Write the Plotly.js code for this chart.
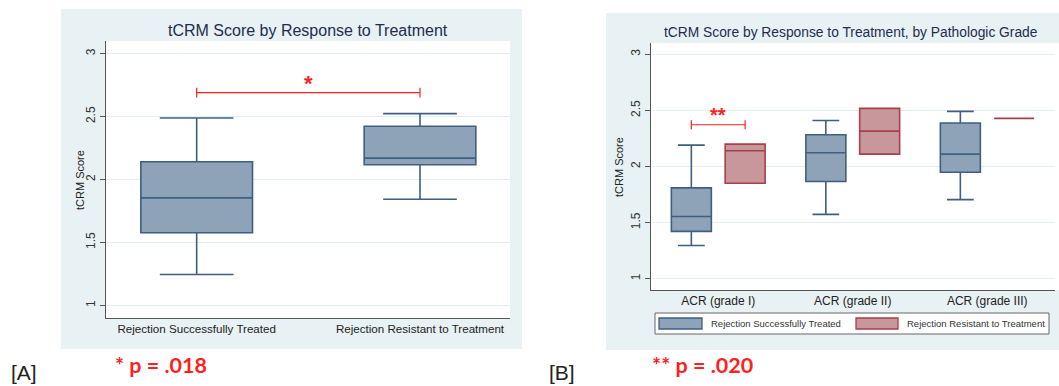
<!DOCTYPE html>
<html>
<head>
<meta charset="utf-8">
<script src="https://cdn.plot.ly/plotly-3.0.1.min.js"></script>
<style>html,body{margin:0;padding:0;background:#fff;}#chart{width:1059px;height:386px;}</style>
</head>
<body>
<div id="chart"></div>
<script>
// ---- Data (panel A) ----
const categoriesA = ['Rejection Successfully Treated', 'Rejection Resistant to Treatment'];
const lowerA  = [1.245, 1.843];
const q1A     = [1.577, 2.117];
const medianA = [1.854, 2.170];
const q3A     = [2.141, 2.423];
const upperA  = [2.489, 2.523];

// ---- Data (panel B) ----
const categoriesB = ['ACR (grade I)', 'ACR (grade II)', 'ACR (grade III)'];
const seriesNames = ['Rejection Successfully Treated', 'Rejection Resistant to Treatment'];
const treatedLower  = [1.297, 1.574, 1.705];
const treatedQ1     = [1.422, 1.866, 1.949];
const treatedMedian = [1.554, 2.122, 2.110];
const treatedQ3     = [1.810, 2.283, 2.387];
const treatedUpper  = [2.190, 2.410, 2.491];
const resistLower   = [1.851, 2.110, 2.429];
const resistQ1      = [1.851, 2.110, 2.429];
const resistMedian  = [2.140, 2.315, 2.429];
const resistQ3      = [2.199, 2.518, 2.429];
const resistUpper   = [2.199, 2.518, 2.429];

const yTicks = [1, 1.5, 2, 2.5, 3];
const yTickText = ['1', '1.5', '2', '2.5', '3'];
const sigA = {label: '*', y: 2.69, p: '* p = .018'};
const sigB = {label: '**', y: 2.372, p: '** p = .020'};

// ---- Styles ----
const W = 1059, H = 386;
const px = x => x / W;
const py = y => 1 - y / H;
const blueFill = '#8ea3b7', blueLine = '#3e5f83';
const redFill = '#c8979b', redLine = '#a8404a';
const panelBg = '#e8f1f3';
const gridCol = '#e4eef2';
const axisCol = '#555555';
const red = '#ff1f1f';
const FONT = 'Liberation Sans, Arial, sans-serif';
const boxgap = 0.2, boxgroupgap = 0.257;
const offB = 0.25 * (1 - boxgap);

const traces = [
  {
    type: 'box', xaxis: 'x', yaxis: 'y', x: categoriesA, alignmentgroup: 'A', offsetgroup: 'A',
    q1: q1A, median: medianA, q3: q3A, lowerfence: lowerA, upperfence: upperA,
    width: 0.5, whiskerwidth: 0.66, boxpoints: false, showlegend: false,
    fillcolor: blueFill, line: {color: blueLine, width: 1.6}, hoverinfo: 'skip'
  },
  {
    type: 'box', xaxis: 'x2', yaxis: 'y2', x: categoriesB, name: seriesNames[0],
    alignmentgroup: 'B', offsetgroup: 'treated',
    q1: treatedQ1, median: treatedMedian, q3: treatedQ3, lowerfence: treatedLower, upperfence: treatedUpper,
    whiskerwidth: 0.67, boxpoints: false, showlegend: false,
    fillcolor: blueFill, line: {color: blueLine, width: 1.6}, hoverinfo: 'skip'
  },
  {
    type: 'box', xaxis: 'x2', yaxis: 'y2', x: categoriesB, name: seriesNames[1],
    alignmentgroup: 'B', offsetgroup: 'resistant',
    q1: resistQ1, median: resistMedian, q3: resistQ3, lowerfence: resistLower, upperfence: resistUpper,
    whiskerwidth: 0, boxpoints: false, showlegend: false,
    fillcolor: redFill, line: {color: redLine, width: 1.6}, hoverinfo: 'skip'
  }
];

const yaxisCommon = {
  range: [0.9, 3.1], tickmode: 'array', tickvals: yTicks, ticktext: yTickText,
  tickangle: -90, ticks: 'outside', ticklen: 5, tickcolor: axisCol,
  showline: true, linecolor: axisCol, linewidth: 1, showgrid: true, gridcolor: gridCol,
  zeroline: false, tickfont: {family: FONT, size: 12, color: '#333'},
  fixedrange: true
};
const xaxisCommon = {
  type: 'category', showline: true, linecolor: axisCol, linewidth: 1, ticks: '',
  showgrid: false, zeroline: false, tickfont: {family: FONT, size: 12, color: '#222'}, fixedrange: true
};

const shapes = [
  {type: 'rect', xref: 'paper', yref: 'paper', x0: px(61), x1: px(522), y0: py(349), y1: py(9), fillcolor: panelBg, line: {width: 0}, layer: 'below'},
  {type: 'rect', xref: 'paper', yref: 'paper', x0: px(606), x1: px(1059), y0: py(350), y1: py(13), fillcolor: panelBg, line: {width: 0}, layer: 'below'},
  {type: 'rect', xref: 'paper', yref: 'paper', x0: px(106), x1: px(510), y0: py(318), y1: py(41), fillcolor: '#ffffff', line: {width: 0}, layer: 'below'},
  {type: 'rect', xref: 'paper', yref: 'paper', x0: px(651), x1: px(1059), y0: py(290), y1: py(43), fillcolor: '#ffffff', line: {width: 0}, layer: 'below'},
  {type: 'line', xref: 'x', yref: 'y', x0: 0, x1: 1, y0: sigA.y, y1: sigA.y, line: {color: red, width: 1.2}},
  {type: 'line', xref: 'x', yref: 'y', x0: 0, x1: 0, y0: sigA.y - 0.038, y1: sigA.y + 0.038, line: {color: red, width: 1.2}},
  {type: 'line', xref: 'x', yref: 'y', x0: 1, x1: 1, y0: sigA.y - 0.038, y1: sigA.y + 0.038, line: {color: red, width: 1.2}},
  {type: 'line', xref: 'x2', yref: 'y2', x0: -offB, x1: offB, y0: sigB.y, y1: sigB.y, line: {color: red, width: 1.2}},
  {type: 'line', xref: 'x2', yref: 'y2', x0: -offB, x1: -offB, y0: sigB.y - 0.04, y1: sigB.y + 0.04, line: {color: red, width: 1.2}},
  {type: 'line', xref: 'x2', yref: 'y2', x0: offB, x1: offB, y0: sigB.y - 0.04, y1: sigB.y + 0.04, line: {color: red, width: 1.2}},
  {type: 'rect', xref: 'paper', yref: 'paper', x0: px(655), x1: px(1049), y0: py(334), y1: py(313), fillcolor: '#ffffff', line: {color: '#666', width: 1}},
  {type: 'rect', xref: 'paper', yref: 'paper', x0: px(659), x1: px(702), y0: py(329), y1: py(318), fillcolor: blueFill, line: {color: blueLine, width: 1.3}},
  {type: 'rect', xref: 'paper', yref: 'paper', x0: px(856), x1: px(898), y0: py(329), y1: py(318), fillcolor: redFill, line: {color: redLine, width: 1.3}}
];

const annotations = [
  {xref: 'paper', yref: 'paper', x: px(308), y: py(31), text: 'tCRM Score by Response to Treatment', showarrow: false,
   xanchor: 'center', yanchor: 'middle', font: {family: FONT, size: 16, color: '#1e2d50'}},
  {xref: 'paper', yref: 'paper', x: px(851), y: py(33), text: 'tCRM Score by Response to Treatment, by Pathologic Grade', showarrow: false,
   xanchor: 'center', yanchor: 'middle', font: {family: FONT, size: 13.8, color: '#1e2d50'}},
  {xref: 'paper', yref: 'paper', x: px(80), y: py(180), text: 'tCRM Score', textangle: -90, showarrow: false,
   xanchor: 'center', yanchor: 'middle', font: {family: FONT, size: 11, color: '#222'}},
  {xref: 'paper', yref: 'paper', x: px(619), y: py(167), text: 'tCRM Score', textangle: -90, showarrow: false,
   xanchor: 'center', yanchor: 'middle', font: {family: FONT, size: 11, color: '#222'}},
  {xref: 'x', yref: 'y', x: 0.5, y: sigA.y, text: sigA.label, showarrow: false, yanchor: 'bottom', yshift: -5,
   font: {family: FONT, size: 22, color: red, weight: 'bold'}},
  {xref: 'x2', yref: 'y2', x: 0, y: sigB.y, text: sigB.label, showarrow: false, yanchor: 'bottom', yshift: -3,
   font: {family: FONT, size: 20, color: red, weight: 'bold'}},
  {xref: 'paper', yref: 'paper', x: px(709), y: py(323.5), text: seriesNames[0], showarrow: false, xanchor: 'left', yanchor: 'middle',
   font: {family: FONT, size: 9.5, color: '#333'}},
  {xref: 'paper', yref: 'paper', x: px(905), y: py(323.5), text: seriesNames[1], showarrow: false, xanchor: 'left', yanchor: 'middle',
   font: {family: FONT, size: 9.5, color: '#333'}},
  {xref: 'paper', yref: 'paper', x: px(9), y: py(372), text: '[A]', showarrow: false, xanchor: 'left', yanchor: 'middle',
   font: {family: FONT, size: 21, color: '#222'}},
  {xref: 'paper', yref: 'paper', x: px(547), y: py(372), text: '[B]', showarrow: false, xanchor: 'left', yanchor: 'middle',
   font: {family: FONT, size: 21, color: '#222'}},
  {xref: 'paper', yref: 'paper', x: px(113), y: py(365), text: sigA.p, showarrow: false, xanchor: 'left', yanchor: 'middle',
   font: {family: 'Lato, Open Sans, sans-serif', size: 21.5, color: red, weight: 'bold'}},
  {xref: 'paper', yref: 'paper', x: px(650), y: py(365), text: sigB.p, showarrow: false, xanchor: 'left', yanchor: 'middle',
   font: {family: 'Lato, Open Sans, sans-serif', size: 21.5, color: red, weight: 'bold'}}
];

const layout = {
  width: W, height: H, margin: {l: 0, r: 0, t: 0, b: 0},
  paper_bgcolor: '#ffffff', plot_bgcolor: 'rgba(0,0,0,0)',
  showlegend: false, boxmode: 'group', boxgap: boxgap, boxgroupgap: boxgroupgap,
  xaxis: Object.assign({}, xaxisCommon, {domain: [px(106), px(510)], range: [-0.406, 1.403], anchor: 'y',
    tickfont: {family: FONT, size: 11.6, color: '#222'}}),
  yaxis: Object.assign({}, yaxisCommon, {domain: [py(318), py(41)], anchor: 'x'}),
  xaxis2: Object.assign({}, xaxisCommon, {domain: [px(651), px(1054.5)], range: [-0.5, 2.5], anchor: 'y2'}),
  yaxis2: Object.assign({}, yaxisCommon, {domain: [py(290), py(43)], anchor: 'x2'}),
  shapes: shapes, annotations: annotations
};

Plotly.newPlot('chart', traces, layout, {displayModeBar: false, staticPlot: true});
</script>
</body>
</html>
